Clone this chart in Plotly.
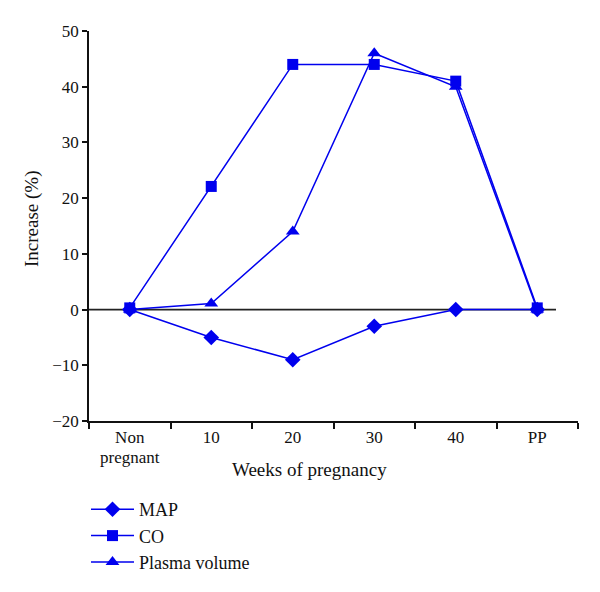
import plotly.graph_objects as go

categories = ["Non", "10", "20", "30", "40", "PP"]
first_label_second_line = "pregnant"
map_vals = [0, -5, -9, -3, 0, 0]
co_vals = [0.3, 22.1, 44, 44, 41, 0.3]
plasma_vals = [0, 1.1, 14, 46, 40, 0]
y_ticks = [-20, -10, 0, 10, 20, 30, 40, 50]
y_ticktext = ["\u221220", "\u221210", "0", "10", "20", "30", "40", "50"]

BLUE = "#0000ee"
FONT = "Liberation Serif"
OFF = 8  # page body margin
W, H = 600, 592
L, T = 89 - OFF, 31 - OFF
PW, PH = 489, 390
R, B = W - L - PW, H - T - PH


def px_x(p):
    return (p - OFF - L) / PW


def px_y(p):
    return (T + PH - (p - OFF)) / PH


fig = go.Figure()
series = [("MAP", map_vals, "diamond", 12), ("CO", co_vals, "square", 11), ("Plasma volume", plasma_vals, "triangle-up", 12)]
for name, vals, sym, sz in series:
    fig.add_trace(go.Scatter(
        x=list(range(len(categories))), y=vals, name=name, mode="lines+markers",
        line=dict(color=BLUE, width=1.5),
        marker=dict(symbol=sym, size=sz, color=BLUE),
        cliponaxis=False,
    ))

fig.add_shape(type="line", xref="x", yref="y", x0=-0.5, x1=5.23, y0=0, y1=0,
              line=dict(color="#222222", width=1.8), layer="below")

fig.add_annotation(text="Weeks of pregnancy", xref="paper", yref="paper",
                   x=px_x(309), y=px_y(469), xanchor="center", yanchor="middle",
                   showarrow=False, font=dict(family=FONT, size=19, color="#111111"))
fig.add_annotation(text="Increase (%)", xref="paper", yref="paper", textangle=-90,
                   x=px_x(32), y=px_y(219), xanchor="center", yanchor="middle",
                   showarrow=False, font=dict(family=FONT, size=19, color="#111111"))
fig.add_annotation(text=first_label_second_line, xref="x", yref="paper",
                   x=0, y=px_y(457), xanchor="center", yanchor="middle",
                   showarrow=False, font=dict(family=FONT, size=17, color="#111111"))

fig.update_layout(
    width=W, height=H,
    margin=dict(l=L, r=R, t=T, b=B, autoexpand=False),
    plot_bgcolor="white", paper_bgcolor="white",
    font=dict(family=FONT, size=18, color="#111111"),
    showlegend=True,
    legend=dict(x=px_x(86), y=px_y(491), xanchor="left", yanchor="top",
                font=dict(family=FONT, size=18), itemwidth=43,
                tracegroupgap=0, bgcolor="rgba(0,0,0,0)"),
    xaxis=dict(
        range=[-0.5, 5.5], showgrid=False, zeroline=False, automargin=False,
        showline=True, linecolor="#111111", linewidth=1.5,
        tickmode="array", tickvals=list(range(len(categories))), ticktext=categories,
        ticks="", tickfont=dict(size=17),
        minor=dict(tickmode="array", tickvals=[i - 0.5 for i in range(len(categories) + 1)],
                   ticks="outside", ticklen=6, tickcolor="#111111", tickwidth=1.5, showgrid=False),
    ),
    yaxis=dict(
        range=[-20, 50], showgrid=False, zeroline=False, automargin=False,
        showline=True, linecolor="#111111", linewidth=1.5,
        ticks="outside", ticklen=5, tickcolor="#111111", tickwidth=1.5,
        tickvals=y_ticks, ticktext=y_ticktext, tickfont=dict(size=17),
    ),
)

fig.write_html("out.html")
